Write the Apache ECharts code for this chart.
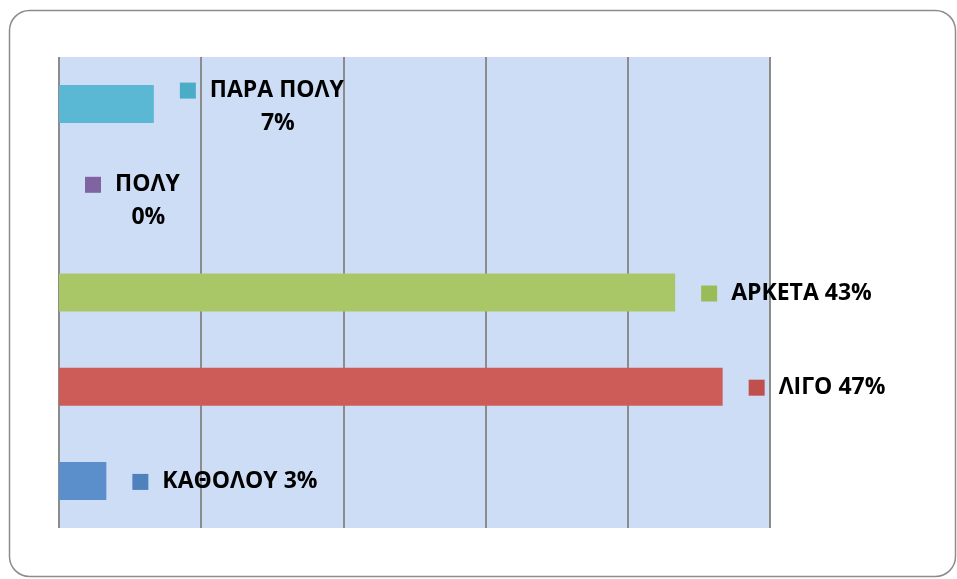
<!DOCTYPE html>
<html>
<head>
<meta charset="utf-8">
<script src="https://cdn.jsdelivr.net/npm/echarts@6/dist/echarts.min.js"></script>
<style>html,body{margin:0;padding:0;background:#fff;}#c{width:957px;height:579px;}</style>
</head>
<body>
<div id="c"></div>
<script>
// Data (top to bottom)
var categories = ['ΠΑΡΑ ΠΟΛΥ', 'ΠΟΛΥ', 'ΑΡΚΕΤΑ', 'ΛΙΓΟ', 'ΚΑΘΟΛΟΥ'];
var values = [6.67, 0, 43.33, 46.67, 3.33];
var percentLabels = ['7%', '0%', '43%', '47%', '3%'];
var xTicks = [0, 10, 20, 30, 40, 50];

var barColors = ['#5BB8D4', '#8064A2', '#A9C766', '#CD5B57', '#5B8FCB'];
var keyColors = ['#4BACC6', '#8064A2', '#9BBB59', '#C0504D', '#4F81BD'];
var twoLine = [true, true, false, false, false];

var font = "'Open Sans', 'Noto Sans', sans-serif";
var rich = {
  t: {fontFamily: font, fontWeight: 'bold', fontSize: 23, color: '#000', lineHeight: 33, align: 'left'},
  g: {width: 14, height: 16, align: 'left'},
  c2: {width: 32, height: 16, align: 'center'},
  tc: {fontFamily: font, fontWeight: 'bold', fontSize: 23, color: '#000', lineHeight: 33, align: 'center'}
};
keyColors.forEach(function (c, i) {
  rich['k' + i] = {width: 16, height: 16, backgroundColor: c, align: 'left'};
});

var chart = echarts.init(document.getElementById('c'), null, {renderer: 'canvas'});
chart.setOption({
  animation: false,
  backgroundColor: '#ffffff',
  graphic: [{
    type: 'rect',
    shape: {x: 9.5, y: 10.5, width: 946, height: 566, r: 20},
    style: {fill: 'none', stroke: '#8C8C8C', lineWidth: 1.5},
    z: -1
  }],
  grid: {
    left: 59, right: 187, top: 57, bottom: 51,
    show: true, backgroundColor: '#CEDDF6', borderWidth: 0
  },
  xAxis: {
    type: 'value',
    min: xTicks[0], max: xTicks[xTicks.length - 1], interval: xTicks[1] - xTicks[0],
    axisLabel: {show: false}, axisTick: {show: false}, axisLine: {show: false},
    splitLine: {show: true, lineStyle: {color: '#8C8C8C', width: 2}}
  },
  yAxis: {
    type: 'category', data: categories, inverse: true,
    axisLabel: {show: false}, axisTick: {show: false}, axisLine: {show: false},
    splitLine: {show: false}
  },
  series: [{
    type: 'bar',
    barWidth: 38,
    data: values.map(function (v, i) {
      return {
        value: v,
        itemStyle: {color: barColors[i]},
        label: {offset: twoLine[i] ? [0, 3] : [0, 1]}
      };
    }),
    label: {
      show: true,
      position: 'right',
      distance: 26,
      rich: rich,
      formatter: function (p) {
        var i = p.dataIndex;
        if (twoLine[i]) {
          return '{k' + i + '|}{g|}{t|' + categories[i] + '}\n{c2|}{tc|' + percentLabels[i] + '}';
        }
        return '{k' + i + '|}{g|}{t|' + categories[i] + ' ' + percentLabels[i] + '}';
      }
    }
  }]
});
</script>
</body>
</html>
